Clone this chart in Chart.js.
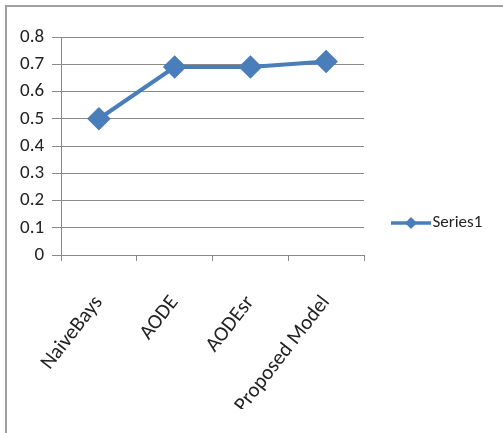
<!DOCTYPE html>
<html>
<head>
<meta charset="utf-8">
<script src="https://cdn.jsdelivr.net/npm/chart.js@4"></script>
<style>
html,body{margin:0;padding:0;background:#fff;}
#wrap{position:absolute;left:0;top:0;width:503px;height:433px;}
</style>
</head>
<body>
<div id="wrap"><canvas id="c" width="503" height="433"></canvas></div>
<script>
const categories = ["NaiveBays", "AODE", "AODEsr", "Proposed Model"];
const series1 = [0.5, 0.69, 0.69, 0.71];
const seriesName = "Series1";
const yMin = 0, yMax = 0.8, yStep = 0.1;

const lineColor = "#4a7ebb";
const fontFam = "Carlito, Lato, 'Liberation Sans', sans-serif";

// legend symbol: line with diamond
function legendSymbol(){
  const cv = document.createElement('canvas');
  cv.width = 40; cv.height = 14;
  const g = cv.getContext('2d');
  g.strokeStyle = lineColor; g.lineWidth = 3.5;
  g.beginPath(); g.moveTo(0,7); g.lineTo(40,7); g.stroke();
  g.fillStyle = lineColor;
  g.beginPath(); g.moveTo(20,1); g.lineTo(26,7); g.lineTo(20,13); g.lineTo(14,7); g.closePath(); g.fill();
  return cv;
}

const borderPlugin = {
  id: 'frame',
  beforeDraw(chart){
    const ctx = chart.ctx;
    ctx.save();
    ctx.strokeStyle = '#a0a0a0';
    ctx.lineWidth = 2;
    ctx.beginPath();
    ctx.moveTo(6, 440); ctx.lineTo(6, 6); ctx.lineTo(510, 6);
    ctx.stroke();
    ctx.restore();
  }
};

new Chart(document.getElementById('c'), {
  type: 'line',
  data: {
    labels: categories,
    datasets: [{
      label: seriesName,
      data: series1,
      borderColor: lineColor,
      backgroundColor: lineColor,
      borderWidth: 4,
      pointStyle: 'rectRot',
      pointRadius: 9,
      pointHoverRadius: 9,
      pointBackgroundColor: lineColor,
      pointBorderColor: lineColor,
      tension: 0
    }]
  },
  options: {
    responsive: false,
    animation: false,
    layout: { padding: { top: 37, left: 12, right: 13, bottom: 24 } },
    plugins: {
      tooltip: { enabled: false },
      legend: {
        position: 'right',
        maxWidth: 126,
        labels: {
          usePointStyle: true,
          pointStyleWidth: 26,
          padding: 34,
          color: '#222',
          font: { family: fontFam, size: 17 },
          generateLabels(chart){
            return chart.data.datasets.map((d,i)=>({
              text: d.label,
              pointStyle: legendSymbol(),
              fillStyle: d.borderColor,
              strokeStyle: d.borderColor,
              lineWidth: 0,
              hidden: false,
              datasetIndex: i,
              fontColor: '#222'
            }));
          }
        }
      }
    },
    scales: {
      x: {
        type: 'category',
        offset: true,
        grid: { offset: true, drawOnChartArea: false, drawTicks: true, tickLength: 6, color: '#888' },
        border: { color: '#888', width: 1 },
        ticks: { color: '#222', font: { family: fontFam, size: 21 }, minRotation: 52, maxRotation: 52, padding: 30 },
        afterFit(scale){ scale.height = 154; }
      },
      y: {
        min: yMin, max: yMax,
        ticks: { stepSize: yStep, autoSkip: false, color: '#222', font: { family: fontFam, size: 19 }, padding: 8 },
        grid: { color: '#8a8a8a', tickLength: 9, lineWidth: 1 },
        border: { color: '#888', width: 1 }
      }
    }
  },
  plugins: [borderPlugin]
});
</script>
</body>
</html>
